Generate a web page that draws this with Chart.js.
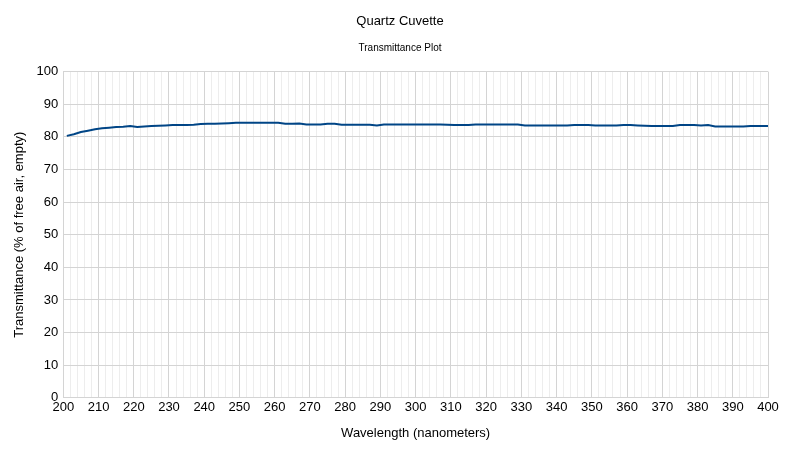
<!DOCTYPE html>
<html>
<head>
<meta charset="utf-8">
<script src="https://cdn.jsdelivr.net/npm/chart.js@4/dist/chart.umd.min.js"></script>
<style>
  html, body { margin: 0; padding: 0; background: #fff; }
  #wrap { width: 800px; height: 450px; }
</style>
</head>
<body>
<div id="wrap"><canvas id="grafica"></canvas></div>
<script>
// wavelength (nm) and transmittance (% of free air)
const wavelengths = [201, 203, 205, 207, 209, 211, 213, 215, 217, 219,
    221, 223, 225, 227, 229, 231, 233, 235, 237, 239,
    241, 243, 245, 247, 249, 251, 253, 255, 257, 259,
    261, 263, 265, 267, 269, 271, 273, 275, 277, 279,
    281, 283, 285, 287, 289, 291, 293, 295, 297, 299,
    301, 303, 305, 307, 309, 311, 313, 315, 317, 319,
    321, 323, 325, 327, 329, 331, 333, 335, 337, 339,
    341, 343, 345, 347, 349, 351, 353, 355, 357, 359,
    361, 363, 365, 367, 369, 371, 373, 375, 377, 379,
    381, 383, 385, 387, 389, 391, 393, 395, 397, 399, 400];
const transmittance = [80.3, 80.8, 81.5, 81.9, 82.3, 82.6, 82.8, 83.0, 83.1, 83.3,
    83.0, 83.2, 83.3, 83.4, 83.5, 83.6, 83.6, 83.6, 83.7, 83.9,
    84.0, 84.0, 84.1, 84.2, 84.3, 84.3, 84.3, 84.3, 84.3, 84.3,
    84.3, 84.0, 84.0, 84.1, 83.8, 83.8, 83.8, 84.0, 84.0, 83.7,
    83.7, 83.7, 83.7, 83.7, 83.5, 83.8, 83.8, 83.8, 83.8, 83.8,
    83.8, 83.8, 83.8, 83.8, 83.7, 83.6, 83.6, 83.6, 83.8, 83.8,
    83.8, 83.8, 83.8, 83.8, 83.8, 83.5, 83.5, 83.5, 83.5, 83.5,
    83.5, 83.5, 83.6, 83.6, 83.6, 83.5, 83.5, 83.5, 83.5, 83.6,
    83.6, 83.5, 83.4, 83.3, 83.3, 83.3, 83.3, 83.6, 83.6, 83.6,
    83.5, 83.6, 83.2, 83.2, 83.2, 83.2, 83.2, 83.3, 83.3, 83.3, 83.3];

const xTicks = [200, 210, 220, 230, 240, 250, 260, 270, 280, 290, 300,
    310, 320, 330, 340, 350, 360, 370, 380, 390, 400];
const yTicks = [0, 10, 20, 30, 40, 50, 60, 70, 80, 90, 100];

document.addEventListener("DOMContentLoaded", function () {

    let ctx = document.getElementById("grafica").getContext("2d");
    let puntos = wavelengths.map((w, i) => ({ x: w, y: transmittance[i] }));

    new Chart(ctx, {
        type: 'line',
        data: {
            datasets: [{
                label: 'Transmittance',
                data: puntos,
                borderColor: '#004586',
                borderWidth: 2,
                pointRadius: 0,
                tension: 0,
                fill: false
            }]
        },
        options: {
            responsive: true,
            maintainAspectRatio: false,
            animation: false,
            layout: { padding: { left: 12, right: 12, top: 6, bottom: 9 } },
            plugins: {
                legend: { display: false },
                tooltip: { enabled: false },
                title: {
                    display: true,
                    text: 'Quartz Cuvette',
                    color: '#000',
                    font: { family: 'Liberation Sans', size: 13, weight: 'normal' },
                    padding: { top: 8, bottom: 7 }
                },
                subtitle: {
                    display: true,
                    text: 'Transmittance Plot',
                    color: '#000',
                    font: { family: 'Liberation Sans', size: 10, weight: 'normal' },
                    padding: { top: 6, bottom: 17 }
                }
            },
            scales: {
                x: {
                    type: 'linear',
                    min: 200,
                    max: 400,
                    ticks: {
                        stepSize: 2,
                        autoSkip: false,
                        maxRotation: 0,
                        color: '#000',
                        padding: 2,
                        font: { family: 'Liberation Sans', size: 13 },
                        callback: v => xTicks.includes(v) ? v : ''
                    },
                    grid: {
                        drawTicks: false,
                        color: c => (c.tick && xTicks.includes(c.tick.value)) ? '#d4d4d4' : '#ededed'
                    },
                    border: { color: '#d4d4d4' },
                    title: {
                        display: true,
                        text: 'Wavelength (nanometers)',
                        color: '#000',
                        font: { family: 'Liberation Sans', size: 13 },
                        padding: { top: 8, bottom: 0 }
                    }
                },
                y: {
                    min: 0,
                    max: 100,
                    afterBuildTicks: s => { s.ticks = yTicks.map(v => ({ value: v })); },
                    ticks: {
                        color: '#000',
                        padding: 5,
                        font: { family: 'Liberation Sans', size: 13 }
                    },
                    grid: { drawTicks: false, color: '#d4d4d4' },
                    border: { color: '#d4d4d4' },
                    title: {
                        display: true,
                        text: 'Transmittance (% of free air, empty)',
                        color: '#000',
                        font: { family: 'Liberation Sans', size: 13 },
                        padding: { top: 0, bottom: 4 }
                    }
                },
                // empty right-hand axis, only reserves space so the title stays centred
                yRight: {
                    position: 'right',
                    display: true,
                    ticks: { display: false },
                    grid: { display: false },
                    border: { display: false },
                    afterFit: s => { s.width = 20; }
                }
            }
        }
    });
});
</script>
</body>
</html>
